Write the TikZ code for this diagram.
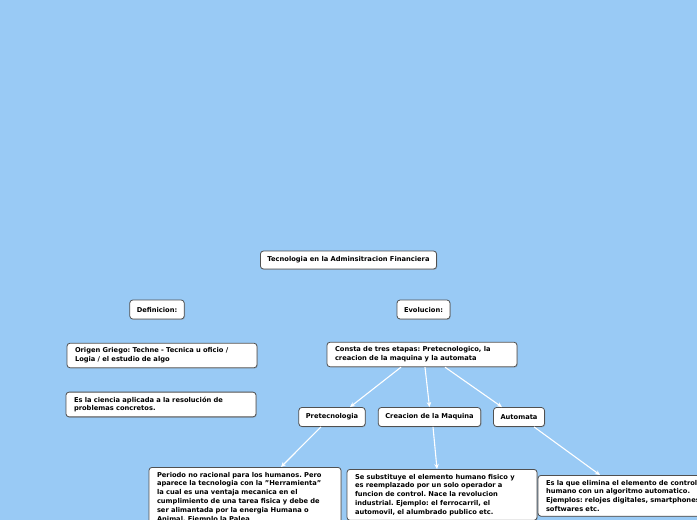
\documentclass[tikz,border=0pt]{standalone}
\usepackage{fontspec}
\setmainfont{DejaVu Sans}
\usetikzlibrary{arrows.meta,shadows}
\definecolor{bgblue}{RGB}{153,202,245}
\definecolor{boxgray}{RGB}{80,80,80}

\begin{document}
\frenchspacing
\begin{tikzpicture}[x=1pt,y=-1pt,
  topic/.style={draw=boxgray, fill=white, rounded corners=3pt, line width=0.8pt,
    font=\fontsize{6.7}{8.8}\selectfont\bfseries, inner xsep=7pt, minimum height=19pt,
    drop shadow={shadow xshift=0.8pt, shadow yshift=-0.8pt, opacity=0.35}},
  note/.style={topic, text width=174pt, align=left, inner xsep=8pt, inner ysep=4.6pt, minimum height=0pt},
  link/.style={white, line width=1.1pt, -{Stealth[length=5pt,width=4.5pt]}}
]

% Background
\useasboundingbox (0,0) rectangle (697,520);
\fill[bgblue] (0,0) rectangle (697,520);

% Title
\node[topic, minimum height=18pt] (title) at (348.5,260) {Tecnologia en la Adminsitracion Financiera};

% Left branch
\node[topic] (defin) at (157,309.5) {Definicion:};
\node[note] (origen) at (162,355.5) {Origen Griego: Techne - Tecnica u oficio /\\Logia / el estudio de algo};
\node[note] (ciencia) at (161,404.5) {Es la ciencia aplicada a la resolución de\\problemas concretos.};

% Right branch
\node[topic] (evol) at (423.5,309.5) {Evolucion:};
\node[note] (consta) at (422,354.5) {Consta de tres etapas: Pretecnologico, la\\creacion de la maquina y la automata};

% Stages
\node[topic] (pre) at (332,417) {Pretecnologia};
\node[topic] (maq) at (429.5,417) {Creacion de la Maquina};
\node[topic] (auto) at (519,417) {Automata};

% Stage details
\node[note, text width=176pt, anchor=north] (periodo) at (245,467) {Periodo no racional para los humanos. Pero\\aparece la tecnologia con la "Herramienta"\\la cual es una ventaja mecanica en el\\cumplimiento de una tarea fisica y debe de\\ser alimantada por la energia Humana o\\Animal. Ejemplo la Palea};
\node[note, anchor=north] (subst) at (442,469) {Se substituye el elemento humano fisico y\\es reemplazado por un solo operador a\\funcion de control. Nace la revolucion\\industrial. Ejemplo: el ferrocarril, el\\automovil, el alumbrado publico etc.};
\node[note, anchor=north] (elimina) at (633,475) {Es la que elimina el elemento de control\\humano con un algoritmo automatico.\\Ejemplos: relojes digitales, smartphones,\\softwares etc.};

% Links
\draw[link] ([xshift=-21pt]consta.south) -- ([xshift=18pt]pre.north);
\draw[link] ([xshift=3pt]consta.south) -- (maq.north);
\draw[link] ([xshift=23pt]consta.south) -- ([xshift=-17pt]auto.north);
\draw[link] ([xshift=-11pt]pre.south) -- ([xshift=36pt]periodo.north);
\draw[link] ([xshift=3.5pt]maq.south) -- ([xshift=-5pt]subst.north);
\draw[link] ([xshift=15pt]auto.south) -- ([xshift=-33pt]elimina.north);

\end{tikzpicture}
\end{document}
